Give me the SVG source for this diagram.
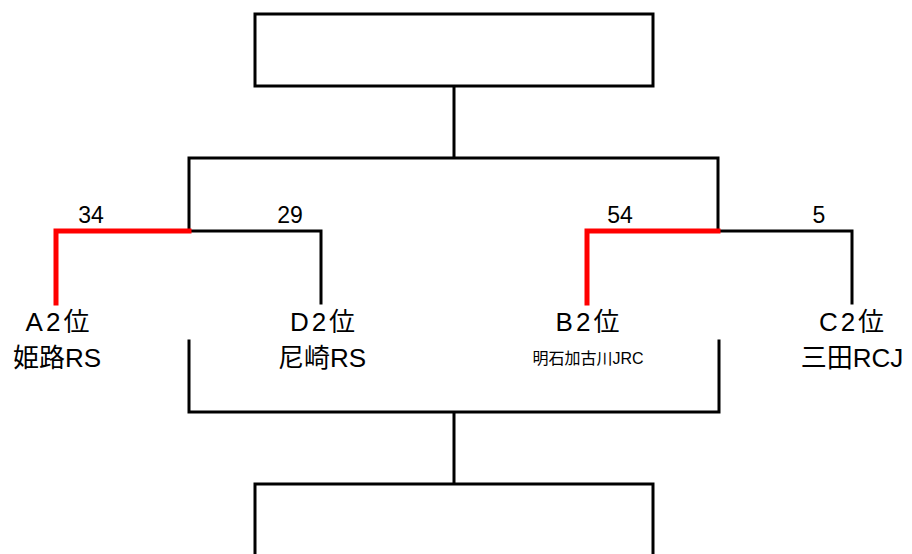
<svg xmlns="http://www.w3.org/2000/svg" width="912" height="554" viewBox="0 0 912 554">
<style>
.box{fill:#fff;stroke:#000;stroke-width:3}
.ln{fill:none;stroke:#000;stroke-width:3;stroke-linecap:square}
.win{fill:none;stroke:#ff0000;stroke-width:5;stroke-linecap:square}
.score{font-family:"Liberation Sans","Noto Sans CJK JP",sans-serif;font-size:23px;fill:#000;text-anchor:middle}
.rank{font-family:"Liberation Sans","Noto Sans CJK JP",sans-serif;font-size:26px;fill:#000;text-anchor:middle;letter-spacing:3px}
.team{font-family:"Liberation Sans","Noto Sans CJK JP",sans-serif;font-size:26px;fill:#000;text-anchor:middle}
.small{font-family:"Liberation Sans","Noto Sans CJK JP",sans-serif;font-size:16px;fill:#000;text-anchor:middle}
</style>
<rect width="912" height="554" fill="#fff"/>
<g id="connectors">
<path class="ln" d="M454 86 V158 M189 231 V158 H718 V231"/>
<path class="ln" d="M189 231 H321 V303"/>
<path class="ln" d="M718 231 H852 V303"/>
<path class="win" d="M189 231 H56 V303"/>
<path class="win" d="M718 231 H587 V303"/>
<path class="ln" d="M189 341 V412 H719 V341 M454 412 V484"/>
</g>
<g id="final-top"><rect class="box" x="255" y="14" width="398" height="72"/></g>
<g id="final-bottom"><rect class="box" x="255" y="484" width="398" height="90"/></g>
<g id="scores">
<text class="score" x="91" y="223">34</text>
<text class="score" x="290" y="223">29</text>
<text class="score" x="620" y="223">54</text>
<text class="score" x="819" y="223">5</text>
</g>
<g id="team-a"><text class="rank" x="59" y="331">A2位</text><text class="team" x="57" y="367">姫路RS</text></g>
<g id="team-d"><text class="rank" x="324" y="331">D2位</text><text class="team" x="322" y="367">尼崎RS</text></g>
<g id="team-b"><text class="rank" x="589" y="331">B2位</text><text class="small" x="588" y="364">明石加古川JRC</text></g>
<g id="team-c"><text class="rank" x="853" y="331">C2位</text><text class="team" x="852" y="367">三田RCJ</text></g>
</svg>
